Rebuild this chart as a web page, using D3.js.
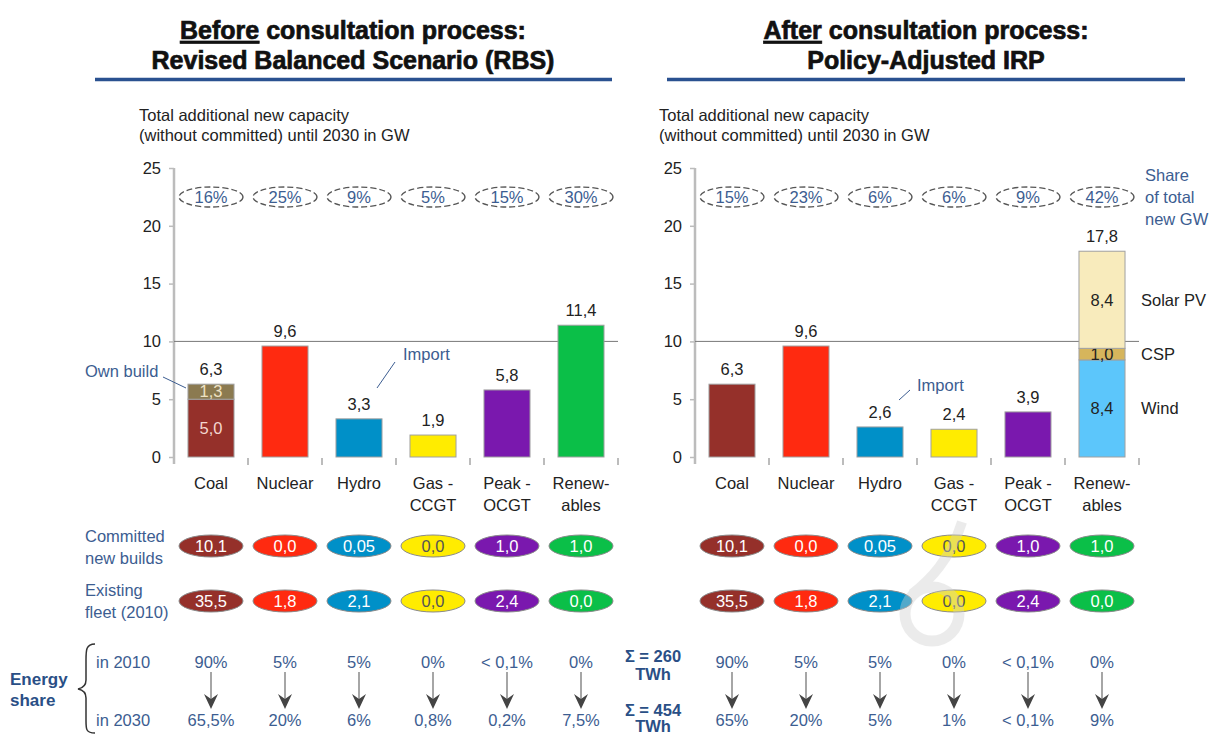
<!DOCTYPE html>
<html>
<head>
<meta charset="utf-8">
<script src="https://cdn.jsdelivr.net/npm/d3@7"></script>
<style>
  html, body { margin: 0; padding: 0; background: #fff; }
  svg { display: block; font-family: "Liberation Sans", Arial, sans-serif; }
</style>
</head>
<body>
<svg id="chart" width="1228" height="736"></svg>
<script>
// ---- data ----
const categories = [["Coal"], ["Nuclear"], ["Hydro"], ["Gas -", "CCGT"], ["Peak -", "OCGT"], ["Renew-", "ables"]];
const techColors = ["#95302a", "#ff2a10", "#0090c8", "#ffec00", "#7a18ae", "#0bbf48"];

// Before consultation: Revised Balanced Scenario (GW)
const rbsTotals = [6.3, 9.6, 3.3, 1.9, 5.8, 11.4];
const rbsCoalSplit = [5.0, 1.3];
const rbsShare = ["16%", "25%", "9%", "5%", "15%", "30%"];
const rbsEnergy2010 = ["90%", "5%", "5%", "0%", "< 0,1%", "0%"];
const rbsEnergy2030 = ["65,5%", "20%", "6%", "0,8%", "0,2%", "7,5%"];

// After consultation: Policy-Adjusted IRP (GW)
const irpTotals = [6.3, 9.6, 2.6, 2.4, 3.9, 17.8];
const irpRenewSplit = [8.4, 1.0, 8.4];
const irpRenewNames = ["Wind", "CSP", "Solar PV"];
const irpShare = ["15%", "23%", "6%", "6%", "9%", "42%"];
const irpEnergy2010 = ["90%", "5%", "5%", "0%", "< 0,1%", "0%"];
const irpEnergy2030 = ["65%", "20%", "5%", "1%", "< 0,1%", "9%"];

// Shared rows
const committedBuilds = ["10,1", "0,0", "0,05", "0,0", "1,0", "1,0"];
const existingFleet = ["35,5", "1,8", "2,1", "0,0", "2,4", "0,0"];
const yTicks = [0, 5, 10, 15, 20, 25];

// ---- styles ----
const blueText = "#3c5d91";
const darkBlue = "#2a4f86";
const fmt = v => d3.format(".1f")(v).replace(".", ",");

const svg = d3.select("#chart");

const y = d3.scaleLinear().domain([0, 25]).range([457, 168]);

const panels = [
  { x0: 174, x1: 618, titleA: "Before", titleB: " consultation process:", titleC: "Revised Balanced Scenario (RBS)",
    cx: 353, rule: [95, 612], subX: 139,
    totals: rbsTotals, share: rbsShare, e2010: rbsEnergy2010, e2030: rbsEnergy2030,
    stack: { idx: 0, values: rbsCoalSplit, colors: ["#95302a", "#8b7a50"], textColors: ["#f3d6cf", "#eee2c4"] } },
  { x0: 695, x1: 1139, titleA: "After", titleB: " consultation process:", titleC: "Policy-Adjusted IRP",
    cx: 926, rule: [667, 1185], subX: 659,
    totals: irpTotals, share: irpShare, e2010: irpEnergy2010, e2030: irpEnergy2030,
    stack: { idx: 5, values: irpRenewSplit, colors: ["#5cc6fb", "#d6b55c", "#f8ebbc"], textColors: ["#222", "#222", "#222"] } }
];

panels.forEach((p, pi) => {
  const g = svg.append("g");
  const x = d3.scaleBand().domain(d3.range(6)).range([p.x0, p.x1]).paddingInner(0.378).paddingOuter(0.189);
  const cxOf = i => x(i) + x.bandwidth() / 2;

  // title
  const titleStyle = sel => sel.attr("text-anchor", "middle").attr("font-size", 25).attr("font-weight", "bold")
    .attr("fill", "#111").attr("stroke", "#111").attr("stroke-width", 0.7);
  const t1 = g.append("text").attr("x", p.cx).attr("y", 39).call(titleStyle);
  t1.append("tspan").attr("text-decoration", "underline").text(p.titleA);
  t1.append("tspan").text(p.titleB);
  g.append("text").attr("x", p.cx).attr("y", 69).call(titleStyle).text(p.titleC);
  g.append("line").attr("x1", p.rule[0]).attr("x2", p.rule[1]).attr("y1", 79.5).attr("y2", 79.5)
    .attr("stroke", "#2a5190").attr("stroke-width", 3.5);

  // subtitle
  g.append("text").attr("x", p.subX).attr("y", 121).attr("font-size", 16.5).attr("fill", "#222")
    .text("Total additional new capacity");
  g.append("text").attr("x", p.subX).attr("y", 141).attr("font-size", 16.5).attr("fill", "#222")
    .text("(without committed) until 2030 in GW");

  // y axis
  const ax = g.append("g").attr("transform", `translate(${p.x0},0)`)
    .call(d3.axisLeft(y).tickValues(yTicks).tickSize(5).tickSizeOuter(0).tickPadding(8));
  ax.select(".domain").attr("d", `M0,${y(0) + 7}V${y(25)}`).attr("stroke", "#bcbcbc").attr("stroke-width", 2.5);
  ax.selectAll(".tick line").attr("stroke", "#bcbcbc").attr("stroke-width", 1.5);
  ax.selectAll(".tick text").attr("font-size", 16.5).attr("fill", "#222")
    .attr("font-family", "'Liberation Sans', Arial, sans-serif");

  // category boundary ticks below baseline
  g.selectAll(".ctick").data(d3.range(1, 7)).join("line")
    .attr("x1", i => p.x0 + i * x.step()).attr("x2", i => p.x0 + i * x.step())
    .attr("y1", y(0) + 1).attr("y2", y(0) + 8).attr("stroke", "#bcbcbc").attr("stroke-width", 2);

  // reference line at 10 GW
  g.append("line").attr("x1", p.x0).attr("x2", p.x1).attr("y1", y(10)).attr("y2", y(10))
    .attr("stroke", "#777").attr("stroke-width", 1);

  // bars
  p.totals.forEach((v, i) => {
    if (i === p.stack.idx) {
      let acc = 0;
      p.stack.values.forEach((sv, k) => {
        g.append("rect").attr("x", x(i)).attr("width", x.bandwidth())
          .attr("y", y(acc + sv)).attr("height", y(acc) - y(acc + sv))
          .attr("fill", p.stack.colors[k]).attr("stroke", "#a0a0a0").attr("stroke-width", 1);
        g.append("text").attr("x", cxOf(i)).attr("y", (y(acc) + y(acc + sv)) / 2).attr("dy", "0.35em")
          .attr("text-anchor", "middle").attr("font-size", 16.5).attr("fill", p.stack.textColors[k]).text(fmt(sv));
        acc += sv;
      });
    } else {
      g.append("rect").attr("x", x(i)).attr("width", x.bandwidth())
        .attr("y", y(v)).attr("height", y(0) - y(v))
        .attr("fill", techColors[i]).attr("stroke", "#a0a0a0").attr("stroke-width", 1);
    }
    g.append("text").attr("x", cxOf(i)).attr("y", y(v) - 15).attr("dy", "0.35em")
      .attr("text-anchor", "middle").attr("font-size", 16.5).attr("fill", "#222").text(fmt(v));
  });

  // category labels
  categories.forEach((lines, i) => {
    lines.forEach((ln, k) => {
      g.append("text").attr("x", cxOf(i)).attr("y", 483 + k * 22).attr("dy", "0.35em")
        .attr("text-anchor", "middle").attr("font-size", 16.5).attr("fill", "#222").text(ln);
    });
  });

  // share of total new GW (dashed ellipses)
  p.share.forEach((s, i) => {
    g.append("ellipse").attr("cx", cxOf(i)).attr("cy", 197).attr("rx", 32).attr("ry", 10)
      .attr("fill", "none").attr("stroke", "#555").attr("stroke-width", 1.3).attr("stroke-dasharray", "6,3");
    g.append("text").attr("x", cxOf(i)).attr("y", 197).attr("dy", "0.35em").attr("text-anchor", "middle")
      .attr("font-size", 16.5).attr("fill", blueText).text(s);
  });

  // committed / existing ellipses
  [[committedBuilds, 546], [existingFleet, 601]].forEach(([vals, cy]) => {
    vals.forEach((s, i) => {
      g.append("ellipse").attr("cx", cxOf(i)).attr("cy", cy).attr("rx", 32).attr("ry", 11)
        .attr("fill", techColors[i]).attr("stroke", "#8a8a8a").attr("stroke-width", 1);
      g.append("text").attr("x", cxOf(i)).attr("y", cy).attr("dy", "0.35em").attr("text-anchor", "middle")
        .attr("font-size", 16.5).attr("fill", i === 3 ? "#555" : "#fff").text(s);
    });
  });

  // energy share rows with arrows
  p.e2010.forEach((s, i) => {
    const cx = cxOf(i);
    g.append("text").attr("x", cx).attr("y", 662).attr("dy", "0.35em").attr("text-anchor", "middle")
      .attr("font-size", 16.5).attr("fill", blueText).text(s);
    g.append("text").attr("x", cx).attr("y", 720).attr("dy", "0.35em").attr("text-anchor", "middle")
      .attr("font-size", 16.5).attr("fill", blueText).text(p.e2030[i]);
    g.append("line").attr("x1", cx).attr("x2", cx).attr("y1", 672).attr("y2", 700)
      .attr("stroke", "#888").attr("stroke-width", 1.5);
    g.append("path").attr("d", `M${cx - 7},${694} L${cx},${709} L${cx + 7},${694} L${cx},${699} Z`)
      .attr("fill", "#444");
  });

  // leader annotations
  if (pi === 0) {
    g.append("text").attr("x", 85).attr("y", 371).attr("dy", "0.35em").attr("font-size", 16.5)
      .attr("fill", blueText).text("Own build");
    g.append("line").attr("x1", 163).attr("y1", 377).attr("x2", 186).attr("y2", 388)
      .attr("stroke", blueText).attr("stroke-width", 1);
    g.append("text").attr("x", 403).attr("y", 354).attr("dy", "0.35em").attr("font-size", 16.5)
      .attr("fill", blueText).text("Import");
    g.append("line").attr("x1", 395).attr("y1", 362).attr("x2", 377).attr("y2", 388)
      .attr("stroke", blueText).attr("stroke-width", 1);
  } else {
    g.append("text").attr("x", 917).attr("y", 385).attr("dy", "0.35em").attr("font-size", 16.5)
      .attr("fill", blueText).text("Import");
    g.append("line").attr("x1", 910).attr("y1", 390).attr("x2", 899).attr("y2", 400)
      .attr("stroke", blueText).attr("stroke-width", 1);

    // renewables component names
    let acc = 0;
    p.stack.values.forEach((sv, k) => {
      g.append("text").attr("x", 1141).attr("y", (y(acc) + y(acc + sv)) / 2).attr("dy", "0.35em")
        .attr("font-size", 16.5).attr("fill", "#222").text(irpRenewNames[k]);
      acc += sv;
    });

    ["Share", "of total", "new GW"].forEach((ln, k) => {
      g.append("text").attr("x", 1145).attr("y", 175 + k * 22).attr("dy", "0.35em")
        .attr("font-size", 16.5).attr("fill", blueText).text(ln);
    });
  }
});

// row labels on the left
[["Committed", 536], ["new builds", 558], ["Existing", 590], ["fleet (2010)", 612]].forEach(([t, yy]) => {
  svg.append("text").attr("x", 85).attr("y", yy).attr("dy", "0.35em").attr("font-size", 16.5)
    .attr("fill", blueText).text(t);
});

// energy share block
svg.append("text").attr("x", 10).attr("y", 679).attr("dy", "0.35em").attr("font-size", 17)
  .attr("font-weight", "bold").attr("fill", darkBlue).text("Energy");
svg.append("text").attr("x", 10).attr("y", 700).attr("dy", "0.35em").attr("font-size", 17)
  .attr("font-weight", "bold").attr("fill", darkBlue).text("share");
svg.append("path")
  .attr("d", "M95,644 C86,644 86,650 86,660 L86,680 C86,686 83,688 78,689 C83,690 86,692 86,698 L86,721 C86,729 86,733 95,733")
  .attr("fill", "none").attr("stroke", "#333").attr("stroke-width", 1.5);
svg.append("text").attr("x", 96).attr("y", 662).attr("dy", "0.35em").attr("font-size", 16.5)
  .attr("fill", blueText).text("in 2010");
svg.append("text").attr("x", 96).attr("y", 720).attr("dy", "0.35em").attr("font-size", 16.5)
  .attr("fill", blueText).text("in 2030");

[["Σ = 260", 656], ["TWh", 674], ["Σ = 454", 710], ["TWh", 726]].forEach(([t, yy]) => {
  svg.append("text").attr("x", 653).attr("y", yy).attr("dy", "0.35em").attr("text-anchor", "middle")
    .attr("font-size", 16.5).attr("font-weight", "bold").attr("fill", darkBlue).text(t);
});

// faint watermark glyph
const wm = svg.append("g").attr("opacity", 0.4);
wm.append("circle").attr("cx", 932).attr("cy", 614).attr("r", 27)
  .attr("fill", "none").attr("stroke", "#cfcfcf").attr("stroke-width", 11);
wm.append("path").attr("d", "M912,594 C930,580 950,560 962,522")
  .attr("fill", "none").attr("stroke", "#cfcfcf").attr("stroke-width", 10);
</script>
</body>
</html>
